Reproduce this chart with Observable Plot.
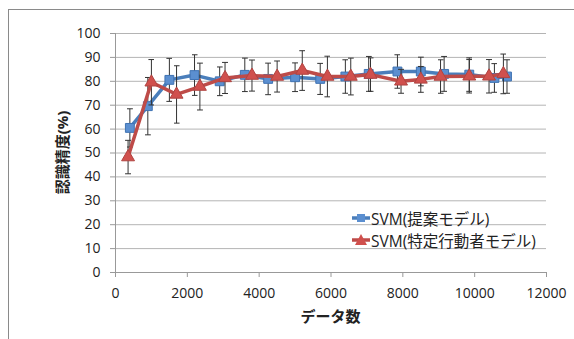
<!DOCTYPE html>
<html>
<head>
<meta charset="utf-8">
<script src="https://cdn.jsdelivr.net/npm/d3@7"></script>
<script src="https://cdn.jsdelivr.net/npm/@observablehq/plot@0.6"></script>
<style>
  html, body { margin: 0; padding: 0; background: #fff; overflow: hidden; }
  #wrap { position: relative; width: 574px; height: 339px; }
  #border { position: absolute; left: 8px; top: 9px; width: 600px; height: 400px; border: 1px solid #8a8a8a; box-sizing: border-box; }
  #legend { position: absolute; left: 352px; top: 207px; font-family: "Open Sans", "Noto Sans CJK JP", sans-serif; font-size: 15.5px; color: #222; }
  #legend .row { display: flex; align-items: center; height: 22px; }
  #legend svg { margin-right: 1px; }
</style>
</head>
<body>
<div id="wrap"><div id="border"></div><div id="chart"></div><div id="legend"></div></div>
<script>
// ---- data ----
const seriesNames = ["SVM(提案モデル)", "SVM(特定行動者モデル)"];
const blueX = [400, 900, 1500, 2200, 2900, 3600, 4250, 5000, 5700, 6400, 7050, 7850, 8500, 9150, 9850, 10550, 10900];
const blueY = [60.5, 69.6, 80.6, 82.6, 80.0, 82.7, 81.0, 81.7, 81.0, 82.0, 83.1, 84.1, 84.1, 83.1, 82.8, 81.4, 82.0];
const blueErr = [8, 12, 9, 8.5, 6, 7, 6.6, 6, 6.5, 7, 7.3, 7, 6, 7.3, 7, 6, 7];
const redX = [350, 1000, 1700, 2350, 3050, 3800, 4500, 5200, 5900, 6550, 7100, 7950, 8500, 9050, 9850, 10400, 10800];
const redY = [48.3, 79.6, 74.5, 77.8, 81.4, 82.4, 82.0, 84.5, 82.0, 82.0, 82.8, 80.0, 80.8, 82.0, 82.1, 82.1, 83.1];
const redErr = [7, 9.5, 12, 9.8, 6.5, 6.5, 6.5, 8.3, 8.5, 7.7, 7, 5, 5.4, 7, 7, 7, 8.3];
const xTicks = [0, 2000, 4000, 6000, 8000, 10000, 12000];
const yTicks = [0, 10, 20, 30, 40, 50, 60, 70, 80, 90, 100];
const xTitle = "データ数";
const yTitle = "認識精度(%)";

const blueColor = "#4a7ebb", blueFill = "#5b8fd0";
const redColor = "#be4b48", redFill = "#d0504d";

const blue = blueX.map((x, i) => ({x, y: blueY[i], lo: blueY[i] - blueErr[i], hi: blueY[i] + blueErr[i]}));
const red = redX.map((x, i) => ({x, y: redY[i], lo: redY[i] - redErr[i], hi: redY[i] + redErr[i]}));

const font = `"Open Sans", "Noto Sans CJK JP", sans-serif`;

function errMarks(data) {
  return Plot.link(data, {x1: "x", x2: "x", y1: "lo", y2: "hi", stroke: "#333", strokeWidth: 1, markerStart: "tick", markerEnd: "tick"});
}

const chart = Plot.plot({
  width: 574, height: 339,
  marginLeft: 115, marginRight: 28, marginTop: 33, marginBottom: 67,
  style: {fontFamily: font, fontSize: "14px", color: "#222", background: "transparent"},
  x: {domain: [0, 12000]},
  y: {domain: [0, 100]},
  marks: [
    Plot.gridY(yTicks, {stroke: "#b4b4b4", strokeOpacity: 1, strokeWidth: 1}),
    Plot.axisY(yTicks, {tickSize: 5, tickPadding: 10, stroke: "#999", label: null, fontSize: 14, fill: "#222"}),
    Plot.axisX(xTicks, {tickSize: 5, tickPadding: 11, stroke: "#999", label: null, fontSize: 14, fill: "#222", tickFormat: d => String(d)}),
    Plot.ruleX([0], {stroke: "#999"}),
    Plot.ruleY([0], {stroke: "#999"}),
    errMarks(blue),
    Plot.line(blue, {x: "x", y: "y", stroke: blueColor, strokeWidth: 3.5}),
    Plot.dot(blue, {x: "x", y: "y", symbol: "square", r: 5, fill: blueFill, stroke: "#3f73b3", strokeWidth: 1}),
    errMarks(red),
    Plot.line(red, {x: "x", y: "y", stroke: redColor, strokeWidth: 3.5}),
    Plot.dot(red, {x: "x", y: "y", symbol: "triangle", r: 4.8, fill: redFill, stroke: "#b04441", strokeWidth: 1})
  ]
});
document.getElementById("chart").appendChild(chart);

const svg = d3.select(chart);
svg.append("text").text(xTitle)
  .attr("x", 330.5).attr("y", 322)
  .attr("text-anchor", "middle")
  .attr("font-family", font).attr("font-weight", "bold").attr("font-size", 15).attr("fill", "#222");
svg.append("text").text(yTitle)
  .attr("transform", "translate(68,152.5) rotate(-90)")
  .attr("text-anchor", "middle")
  .attr("font-family", font).attr("font-weight", "bold").attr("font-size", 15).attr("fill", "#222");

// legend
const legend = d3.select("#legend");
[[seriesNames[0], blueColor, blueFill, "square"], [seriesNames[1], redColor, redFill, "triangle"]].forEach(([name, col, fill, sym]) => {
  const row = legend.append("div").attr("class", "row");
  const s = row.append("svg").attr("width", 18).attr("height", 14);
  s.append("line").attr("x1", 0).attr("x2", 18).attr("y1", 7).attr("y2", 7).attr("stroke", col).attr("stroke-width", 3.5);
  if (sym === "square") s.append("rect").attr("x", 5).attr("y", 3).attr("width", 8).attr("height", 8).attr("fill", fill);
  else s.append("path").attr("d", "M9,1L15,12L3,12Z").attr("fill", fill);
  row.append("span").text(name);
});
</script>
</body>
</html>
